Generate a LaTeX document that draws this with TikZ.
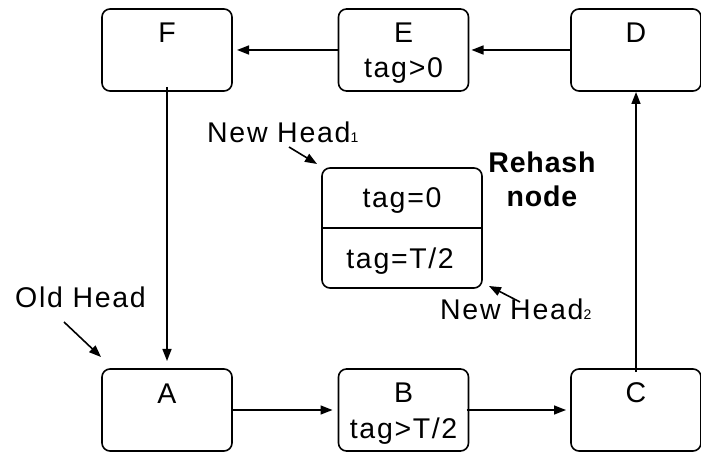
\documentclass[tikz,border=0pt]{standalone}
\usepackage{fontspec}
\setmainfont[LetterSpace=6,BoldFeatures={LetterSpace=3}]{Liberation Sans}
\usetikzlibrary{arrows.meta,calc}
\newcommand{\subdig}[1]{{\fontsize{14bp}{14bp}\selectfont #1}}
\newcommand{\slashk}{\kern1.5bp/\kern1.5bp}
\begin{document}
\begin{tikzpicture}[x=1bp,y=-1bp,
  box/.style={draw, line width=1.6bp, rounded corners=8bp, minimum width=130bp, minimum height=82bp, inner sep=0pt, outer sep=0pt},
  lbl/.style={inner sep=0pt, font=\fontsize{28.5bp}{33bp}\selectfont},
  blbl/.style={lbl, font=\fontsize{28.5bp}{33bp}\selectfont\bfseries},
  arr/.style={line width=1.6bp, -{Triangle[length=12bp,width=9bp]}},
]
\useasboundingbox (0,0) rectangle (701,452);
% boxes
\node[box] (F) at (167,50) {};
\node[box] (E) at (403.5,50) {};
\node[box] (D) at (636,50) {};
\node[box] (A) at (167,410) {};
\node[box] (B) at (403.5,410) {};
\node[box] (C) at (636,410) {};
\node[box, minimum width=160bp, minimum height=120bp] (R) at (402,228) {};
\draw[line width=1.6bp] (R.west) -- (R.east);
% box texts
\node[lbl, anchor=base] (Ft) at (167,43) {F};
\node[lbl, anchor=base] (Et) at (403.5,43) {E};
\node[lbl, anchor=base] (Et2) at (403.5,78) {tag>0};
\node[lbl, anchor=base] (Dt) at (636,43) {D};
\node[lbl, anchor=base] (At) at (167,403) {A};
\node[lbl, anchor=base] (Bt) at (403.5,402) {B};
\node[lbl, anchor=base] (Bt2) at (403.5,438) {tag>T\slashk2};
\node[lbl, anchor=base] (Ct) at (636,402) {C};
\node[lbl, anchor=base] (Rt1) at (402,208) {tag=0};
\node[lbl, anchor=base] (Rt2) at (400,269) {tag=T\slashk2};
% side labels
\node[blbl, anchor=base] (RH1) at (542,173) {Rehash};
\node[blbl, anchor=base] (RH2) at (542,207) {node};
\node[lbl, anchor=base west] (OH) at (15,308) {Old Head};
\node[lbl, anchor=base west] (NH1) at (207,143) {New Head\subdig{1}};
\node[lbl, anchor=base west] (NH2) at (440,320) {New Head\subdig{2}};
% ring connectors
\draw[arr, shorten >=5bp] (E) -- (F);
\draw[arr, shorten >=3bp] (D) -- (E);
\draw[arr, shorten >=8bp, shorten <=-4bp] (F) -- (A);
\draw[arr, shorten >=6bp] (A) -- (B);
\draw[arr, shorten >=5bp, shorten <=-2bp] (B) -- (C);
\draw[arr, shorten >=1bp, shorten <=-3bp] (C) -- (D);
% pointer arrows
\coordinate (oh1) at (64,322);
\coordinate (oh2) at (101,357);
\coordinate (nh1a) at (289,147);
\coordinate (nh1b) at (317,164);
\coordinate (nh2a) at (520,302);
\coordinate (nh2b) at (489,286);
\draw[arr] (oh1) -- (oh2);
\draw[arr] (nh1a) -- (nh1b);
\draw[arr] (nh2a) -- (nh2b);
\end{tikzpicture}
\end{document}
